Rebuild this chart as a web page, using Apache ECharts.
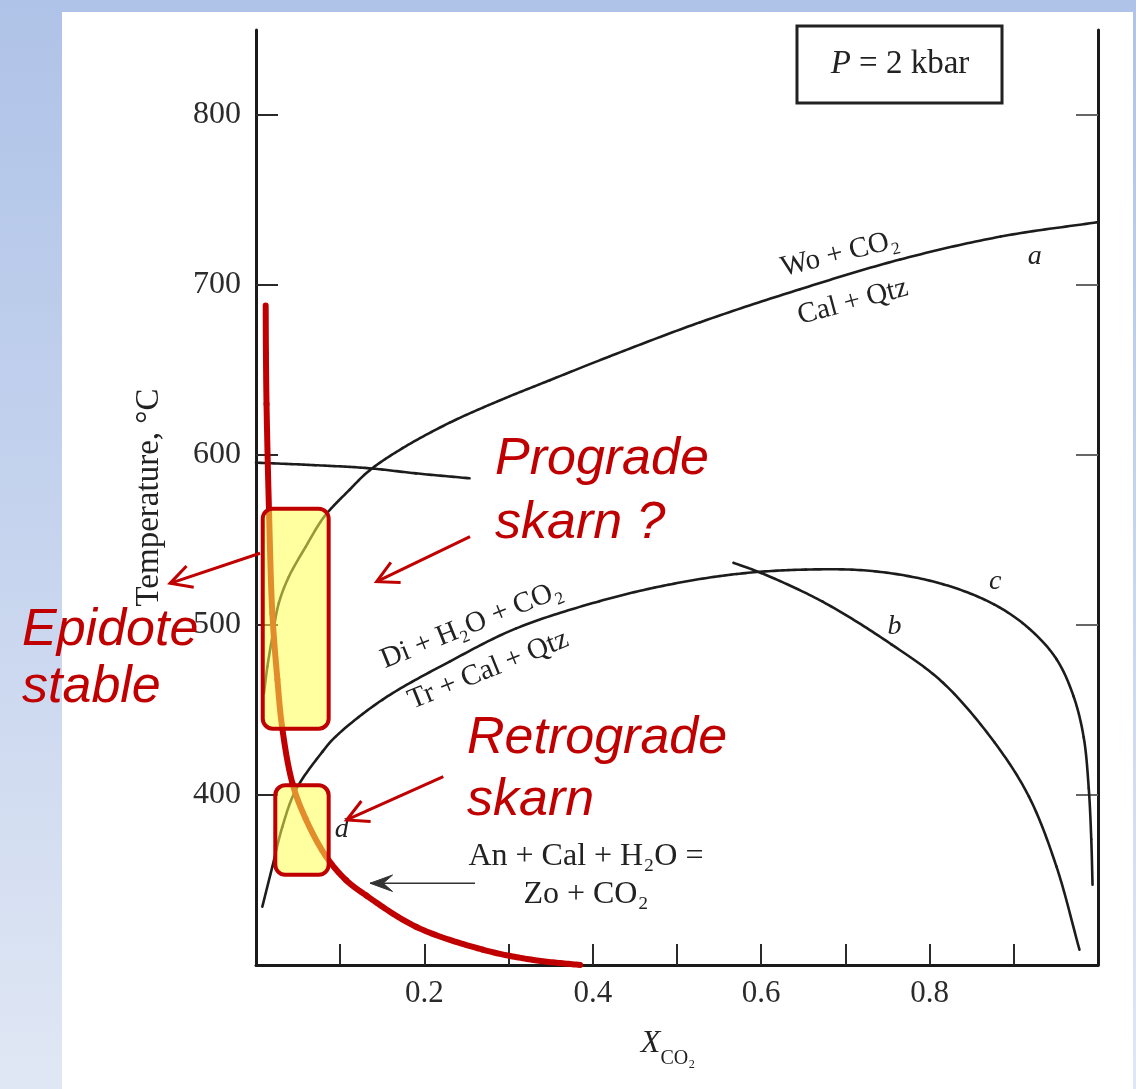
<!DOCTYPE html>
<html><head><meta charset="utf-8">
<script src="https://cdn.jsdelivr.net/npm/echarts@6/dist/echarts.min.js"></script>
<style>
html,body{margin:0;padding:0;width:1136px;height:1089px;overflow:hidden;}
body{background:linear-gradient(to bottom,#afc3e8 0%,#c6d4ee 50%,#e0e7f4 100%);}
#panel{position:absolute;left:62px;top:12px;width:1071px;height:1077px;background:#fff;}
#chart{position:absolute;left:0;top:0;width:1136px;height:1089px;}
</style></head>
<body><div id="panel"></div><div id="chart"></div>
<script>
// ---- axis ticks ----
const xTicks = [0.1,0.2,0.3,0.4,0.5,0.6,0.7,0.8,0.9];
const xTickLabels = [0.2,0.4,0.6,0.8];
const yTickLabels = [400,500,600,700,800];

// ---- curve a : Wo + CO2 = Cal + Qtz ----
const curveA_X = [0.0095,0.0135,0.0194,0.027,0.039,0.059,0.081,0.111,0.1345,0.174,0.23,0.289,0.349,0.42,0.527,0.646,0.765,0.8845,1.0];
const curveA_T = [460,475.5,493,512.7,528.4,546,563.7,579.5,590.8,604,619,632,644,658,678,697.5,715,728.5,737];
// ---- curve b (partly hidden behind the text box) ----
const curveB1_X = [0,0.071,0.1345,0.19,0.2536];
const curveB1_T = [595.5,594,592.2,589.2,586.3];
const curveB2_X = [0.567,0.6,0.673,0.755,0.816,0.877,0.918,0.9506,0.978];
const curveB2_T = [536.6,530.6,513.7,488.5,466,431,399,358,309];
// ---- curve c : Di + H2O + CO2 = Tr + Cal + Qtz ----
const curveC_X = [0.0075,0.0194,0.0313,0.0473,0.079,0.0949,0.15,0.23,0.309,0.408,0.49,0.571,0.653,0.735,0.816,0.877,0.918,0.9506,0.971,0.983,0.989,0.992,0.9935];
const curveC_T = [334.3,357.8,381.3,403,425.5,434.5,456,478.5,498,514,523.7,530,532.6,531.6,524,512,498,480,458,434,404,374,347.2];
// ---- curve d : An + Cal + H2O = Zo + CO2 (red) ----
const curveD_X = [0.0115,0.0118,0.0125,0.0155,0.0194,0.0254,0.031,0.0432,0.059,0.083,0.1068,0.1306,0.19,0.2694,0.329,0.385];
const curveD_T = [688,660,630,566,507,468,440,407,386,364,350,341,322.5,309,303,300];
// ---- highlighted boxes ----
const boxX0 = [0.008,0.0229];
const boxX1 = [0.0863,0.0863];
const boxTlow = [439,353.1];
const boxThigh = [568.4,405.7];

function zip(xs, ts){ return xs.map((x,i)=>[x, ts[i]]); }

const RED = '#c00000';
const SERIF = 'Liberation Serif';
const SANS = 'Liberation Sans';

// annotations in data units (XCO2, T)
const notes = [
  {type:'text', x:0.2838, t:597.5, text:'Prograde',   font:'italic 52px '+SANS, fill:RED, align:'left'},
  {type:'text', x:0.2838, t:559.8, text:'skarn ?',    font:'italic 52px '+SANS, fill:RED, align:'left'},
  {type:'text', x:-0.2779,t:497,   text:'Epidote',    font:'italic 52px '+SANS, fill:RED, align:'left'},
  {type:'text', x:-0.2779,t:463.5, text:'stable',     font:'italic 52px '+SANS, fill:RED, align:'left'},
  {type:'text', x:0.2506, t:433,   text:'Retrograde', font:'italic 52px '+SANS, fill:RED, align:'left'},
  {type:'text', x:0.2506, t:396.5, text:'skarn',      font:'italic 52px '+SANS, fill:RED, align:'left'},
  {type:'text', x:0.6936, t:718.2, text:'Wo + CO₂',   font:'29px '+SERIF, fill:'#222', align:'center', rot:14},
  {type:'text', x:0.709,  t:690,   text:'Cal + Qtz',  font:'29px '+SERIF, fill:'#222', align:'center', rot:15},
  {type:'text', x:0.925,  t:716.6, text:'a',          font:'italic 28px '+SERIF, fill:'#222', align:'center'},
  {type:'text', x:0.2562, t:500,   text:'Di + H₂O + CO₂', font:'29px '+SERIF, fill:'#222', align:'center', rot:22},
  {type:'text', x:0.2759, t:473.5, text:'Tr + Cal + Qtz', font:'29px '+SERIF, fill:'#222', align:'center', rot:22},
  {type:'text', x:0.7583, t:498.8, text:'b',          font:'italic 28px '+SERIF, fill:'#222', align:'center'},
  {type:'text', x:0.878,  t:525.6, text:'c',          font:'italic 28px '+SERIF, fill:'#222', align:'center'},
  {type:'text', x:0.1018, t:379.4, text:'d',          font:'italic 28px '+SERIF, fill:'#222', align:'center'},
  {type:'text', x:0.3919, t:363.5, text:'An + Cal + H₂O =', font:'32px '+SERIF, fill:'#222', align:'center'},
  {type:'text', x:0.3919, t:341.2, text:'Zo + CO₂',   font:'32px '+SERIF, fill:'#222', align:'center'},
  {type:'box',  x0:0.6425, x1:0.886, t0:807.1, t1:852.4},
  {type:'rich', x:0.7648, t:830},
  {type:'arrow', x0:0.00475, t0:542.2, x1:-0.1021, t1:524.5, color:RED, w:3, len:24, ang:28},
  {type:'arrow', x0:0.2542,  t0:552,   x1:0.1433,  t1:525.5, color:RED, w:3, len:24, ang:28},
  {type:'arrow', x0:0.2224,  t0:410.8, x1:0.1077,  t1:385.3, color:RED, w:3, len:24, ang:28},
  {type:'arrow', x0:0.2601,  t0:348.1, x1:0.1354,  t1:348.1, color:'#333', w:1.6, len:24, ang:20, filled:true}
];

function renderNotes(params, api){
  const children = [];
  notes.forEach(n => {
    if (n.type === 'text') {
      const p = api.coord([n.x, n.t]);
      children.push({type:'text', x:p[0], y:p[1], rotation:(n.rot||0)*Math.PI/180,
        style:{text:n.text, font:n.font, fill:n.fill, align:n.align, verticalAlign:'middle'}});
    } else if (n.type === 'box') {
      const a = api.coord([n.x0, n.t1]), b = api.coord([n.x1, n.t0]);
      children.push({type:'rect', shape:{x:a[0], y:a[1], width:b[0]-a[0], height:b[1]-a[1]},
        style:{fill:'#fff', stroke:'#222', lineWidth:3}});
    } else if (n.type === 'rich') {
      const p = api.coord([n.x, n.t]);
      children.push({type:'text', x:p[0], y:p[1],
        style:{text:'{i|P} = 2 kbar', fontFamily:SERIF, fontSize:33, fill:'#222', align:'center', verticalAlign:'middle',
          rich:{i:{fontFamily:SERIF, fontStyle:'italic', fontSize:33, fill:'#222'}}}});
    } else if (n.type === 'arrow') {
      const s = api.coord([n.x0, n.t0]), e = api.coord([n.x1, n.t1]);
      const ang = Math.atan2(s[1]-e[1], s[0]-e[0]);
      const h = n.ang*Math.PI/180;
      const a1 = [e[0]+n.len*Math.cos(ang+h), e[1]+n.len*Math.sin(ang+h)];
      const a2 = [e[0]+n.len*Math.cos(ang-h), e[1]+n.len*Math.sin(ang-h)];
      children.push({type:'line', shape:{x1:s[0], y1:s[1], x2:e[0], y2:e[1]}, style:{stroke:n.color, lineWidth:n.w}});
      if (n.filled) {
        const m = [e[0]+0.55*n.len*Math.cos(ang), e[1]+0.55*n.len*Math.sin(ang)];
        children.push({type:'polygon', shape:{points:[a1, e, a2, m]}, style:{fill:n.color, stroke:n.color, lineWidth:1}});
      } else {
        children.push({type:'polyline', shape:{points:[a1, e, a2]}, style:{stroke:n.color, lineWidth:n.w, fill:null, lineJoin:'miter'}});
      }
    }
  });
  return {type:'group', children};
}

// smooth curve: centripetal Catmull-Rom through the data points (after mapping through the axes)
function curveSeries(name, xs, ts, color, width, z){
  const data = zip(xs, ts);
  const n = data.length;
  return {
    name, type:'custom', coordinateSystem:'cartesian2d', z, clip:false, silent:true,
    data, encode:{x:0, y:1},
    renderItem:(params, api)=>{
      const i = params.dataIndex;
      if (i >= n-1) return {type:'group', children:[]};
      const P = k => api.coord(data[Math.max(0, Math.min(n-1, k))]);
      const p0 = i===0 ? null : P(i-1), p1 = P(i), p2 = P(i+1), p3 = i+2<n ? P(i+2) : null;
      const dist = (a,b)=>Math.sqrt(Math.hypot(a[0]-b[0], a[1]-b[1]));
      const d2 = dist(p1,p2);
      let c1, c2;
      if (p0) {
        const d1 = dist(p0,p1);
        c1 = [0,1].map(k => (d1*d1*p2[k] - d2*d2*p0[k] + (2*d1*d1 + 3*d1*d2 + d2*d2)*p1[k]) / (3*d1*(d1+d2)));
      } else c1 = [p1[0] + (p2[0]-p1[0])/3, p1[1] + (p2[1]-p1[1])/3];
      if (p3) {
        const d3 = dist(p2,p3);
        c2 = [0,1].map(k => (d3*d3*p1[k] - d2*d2*p3[k] + (2*d3*d3 + 3*d3*d2 + d2*d2)*p2[k]) / (3*d3*(d3+d2)));
      } else c2 = [p2[0] - (p2[0]-p1[0])/3, p2[1] - (p2[1]-p1[1])/3];
      const pts = [];
      const N = 24;
      for (let s=0; s<=N; s++){
        const t = s/N, u = 1-t;
        pts.push([u*u*u*p1[0] + 3*u*u*t*c1[0] + 3*u*t*t*c2[0] + t*t*t*p2[0],
                  u*u*u*p1[1] + 3*u*u*t*c1[1] + 3*u*t*t*c2[1] + t*t*t*p2[1]]);
      }
      return {type:'polyline', shape:{points:pts},
        style:{stroke:color, lineWidth:width, fill:null, lineCap:'round', lineJoin:'round'}};
    }
  };
}

const chart = echarts.init(document.getElementById('chart'), null, {renderer:'canvas'});
chart.setOption({
  animation:false,
  backgroundColor:'transparent',
  grid:{left:256, right:38, top:30, bottom:124, containLabel:false},
  xAxis:{
    type:'value', min:0, max:1, interval:0.1,
    name:'{x|X}{s|CO₂}', nameLocation:'middle', nameGap:54,
    nameTextStyle:{padding:[0,18,0,0], rich:{
      x:{fontFamily:SERIF, fontStyle:'italic', fontSize:32, color:'#222'},
      s:{fontFamily:SERIF, fontSize:20, color:'#222', padding:[30,0,0,0]}}},
    axisLine:{show:true, lineStyle:{color:'#1a1a1a', width:3}},
    axisTick:{show:true, inside:true, length:21, customValues:xTicks, lineStyle:{color:'#2a2a2a', width:2}},
    axisLabel:{show:true, customValues:xTickLabels, margin:13, fontFamily:SERIF, fontSize:31, color:'#2b2b2b',
      formatter:v=>v.toFixed(1)},
    splitLine:{show:false}
  },
  yAxis:[{
    type:'value', min:300, max:850, interval:100, position:'left',
    name:'Temperature, °C', nameLocation:'middle', nameGap:90, nameRotate:90,
    nameTextStyle:{fontFamily:SERIF, fontSize:33, color:'#222'},
    axisLine:{show:true, lineStyle:{color:'#1a1a1a', width:3}},
    axisTick:{show:true, inside:true, length:22, customValues:yTickLabels, lineStyle:{color:'#2a2a2a', width:2}},
    axisLabel:{show:true, customValues:yTickLabels, margin:15, fontFamily:SERIF, fontSize:32, color:'#2b2b2b'},
    splitLine:{show:false}
  },{
    type:'value', min:300, max:850, interval:100, position:'right',
    axisLine:{show:true, lineStyle:{color:'#1a1a1a', width:3}},
    axisTick:{show:true, inside:true, length:22, customValues:yTickLabels, lineStyle:{color:'#666', width:2}},
    axisLabel:{show:false}, splitLine:{show:false}
  }],
  series:[
    curveSeries('a',  curveA_X,  curveA_T,  '#1c1c1c', 2.6, 2),
    curveSeries('b1', curveB1_X, curveB1_T, '#1c1c1c', 2.6, 2),
    curveSeries('b2', curveB2_X, curveB2_T, '#1c1c1c', 2.6, 2),
    curveSeries('c',  curveC_X,  curveC_T,  '#1c1c1c', 2.6, 2),
    curveSeries('d',  curveD_X,  curveD_T,  RED, 6, 3),
    {name:'boxes', type:'custom', coordinateSystem:'cartesian2d', z:4, clip:false,
      data: boxX0.map((x,i)=>[x, boxX1[i], boxTlow[i], boxThigh[i]]),
      encode:{x:[0,1], y:[2,3]},
      renderItem:(params, api)=>{
        const a = api.coord([api.value(0), api.value(3)]);
        const b = api.coord([api.value(1), api.value(2)]);
        return {type:'rect', shape:{x:a[0], y:a[1], width:b[0]-a[0], height:b[1]-a[1], r:10},
          style:{fill:'rgba(255,255,80,0.55)', stroke:RED, lineWidth:4}};
      }},
    {name:'notes', type:'custom', coordinateSystem:'cartesian2d', z:5, clip:false, silent:true,
      data:[[0.5, 500]], encode:{x:0, y:1}, renderItem:renderNotes}
  ]
});
</script>
</body></html>
